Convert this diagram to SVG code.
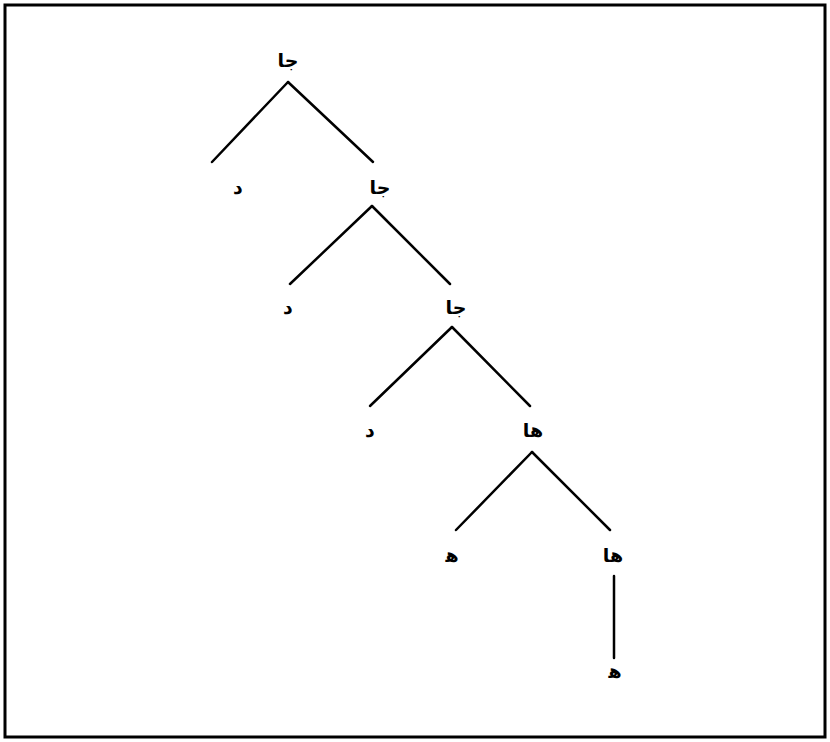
<svg xmlns="http://www.w3.org/2000/svg" width="830" height="742" viewBox="0 0 830 742">
<style>
.edge{stroke:#000;stroke-width:2.5;fill:none;stroke-linecap:round}
.lbl{font-family:"DejaVu Sans","Noto Sans",sans-serif;font-weight:bold;font-size:19px;fill:#000;text-anchor:middle}
</style>
<rect x="5" y="5" width="820" height="732" fill="#fff" stroke="#000" stroke-width="3"/>
<g id="connectors">
<line class="edge" x1="288" y1="82" x2="212" y2="162"/>
<line class="edge" x1="288" y1="82" x2="373" y2="162"/>
<line class="edge" x1="372" y1="206" x2="290" y2="284"/>
<line class="edge" x1="372" y1="206" x2="450" y2="284"/>
<line class="edge" x1="452" y1="327" x2="370" y2="406"/>
<line class="edge" x1="452" y1="327" x2="530" y2="406"/>
<line class="edge" x1="532" y1="452" x2="456" y2="530"/>
<line class="edge" x1="532" y1="452" x2="610" y2="530"/>
<line class="edge" x1="614" y1="576" x2="614" y2="658"/>
</g>
<g id="n1"><text class="lbl" x="288" y="67">جا</text></g>
<g id="n2"><text class="lbl" x="238" y="194">د</text></g>
<g id="n3"><text class="lbl" x="380" y="194">جا</text></g>
<g id="n4"><text class="lbl" x="288" y="314">د</text></g>
<g id="n5"><text class="lbl" x="456" y="314">جا</text></g>
<g id="n6"><text class="lbl" x="370" y="437">د</text></g>
<g id="n7"><text class="lbl" x="533" y="437">ها</text></g>
<g id="n8"><text class="lbl" x="452" y="562">ه&#x200D;</text></g>
<g id="n9"><text class="lbl" x="613" y="562">ها</text></g>
<g id="n10"><text class="lbl" x="615" y="678">ه&#x200D;</text></g>
</svg>
